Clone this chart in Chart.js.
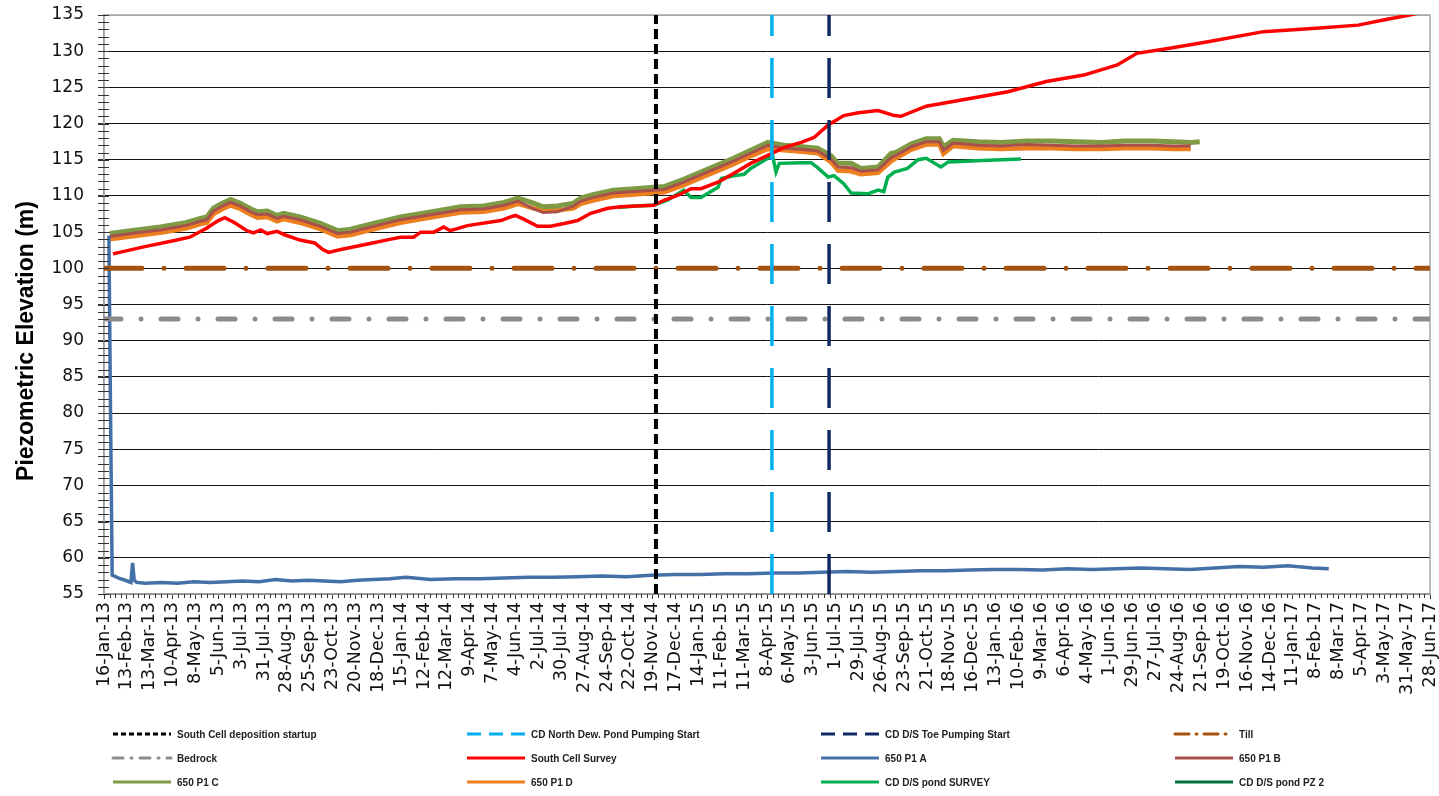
<!DOCTYPE html>
<html>
<head>
<meta charset="utf-8">
<script src="https://cdn.jsdelivr.net/npm/chart.js@4.4.1/dist/chart.umd.min.js"></script>
<style>
  html, body { margin: 0; padding: 0; background: #fff; }
  canvas { display: block; }
</style>
</head>
<body>
<canvas id="chart" width="1439" height="796"></canvas>
<script>
// days counted from 16-Jan-13
const START = Date.UTC(2013, 0, 16);
const MONTHS = ['Jan','Feb','Mar','Apr','May','Jun','Jul','Aug','Sep','Oct','Nov','Dec'];
const X_MAX = 1624;
const Y_TITLE = 'Piezometric Elevation (m)';

// event dates (days) and reference levels (m)
const southCellStartDay = 676;
const northPondPumpDay = 818;
const toePumpDay = 888;
const tillLevel = 100;
const bedrockLevel = 93;

const southSurveyDays = [11,50,85,105,125,140,148,160,175,183,192,200,212,222,240,258,268,275,290,320,350,363,379,388,404,416,424,445,486,498,504,514,531,547,568,580,596,617,633,673,686,703,719,731,752,771,792,813,833,854,870,887,906,924,948,968,976,1007,1052,1107,1154,1200,1241,1265,1305,1352,1420,1489,1536,1567,1599,1624];
const southSurvey = [102.0,103.0,103.8,104.3,105.5,106.6,107.0,106.3,105.2,104.9,105.3,104.8,105.1,104.6,103.9,103.5,102.6,102.2,102.6,103.3,104.0,104.3,104.3,105.0,105.0,105.7,105.2,105.9,106.6,107.1,107.3,106.8,105.8,105.8,106.3,106.6,107.6,108.3,108.5,108.7,109.4,110.1,111.0,111.0,111.9,113.1,114.5,115.6,116.7,117.4,118.1,119.8,121.1,121.5,121.8,121.1,121.0,122.4,123.3,124.4,125.8,126.7,128.1,129.7,130.4,131.3,132.7,133.2,133.6,134.3,135.0,135.6];

const p1aDays = [6,8,10,18,26,33,35,37,40,50,70,90,110,130,150,170,190,210,230,250,270,290,310,330,350,370,400,430,460,490,520,550,580,610,640,670,700,730,760,790,820,850,880,910,940,970,1000,1030,1060,1090,1120,1150,1180,1210,1240,1270,1300,1330,1360,1390,1420,1450,1480,1500];
const p1a = [104.5,80.0,57.6,57.2,56.9,56.6,59.3,56.9,56.6,56.5,56.6,56.5,56.7,56.6,56.7,56.8,56.7,57.0,56.8,56.9,56.8,56.7,56.9,57.0,57.1,57.3,57.0,57.1,57.1,57.2,57.3,57.3,57.4,57.5,57.4,57.6,57.7,57.7,57.8,57.8,57.9,57.9,58.0,58.1,58.0,58.1,58.2,58.2,58.3,58.4,58.4,58.3,58.5,58.4,58.5,58.6,58.5,58.4,58.6,58.8,58.7,58.9,58.6,58.5];

const p1Days = [7,40,69,100,118,126,134,145,155,167,180,188,200,212,220,240,265,286,302,330,363,400,437,465,490,507,526,538,555,575,584,600,624,650,673,686,710,731,750,771,792,813,833,855,874,890,899,915,927,948,964,970,989,1007,1023,1028,1040,1070,1099,1130,1160,1190,1222,1250,1283,1310,1331,1342];
const p1b = [104.4,104.9,105.3,105.9,106.5,106.7,107.9,108.6,109.1,108.6,107.8,107.4,107.5,106.9,107.2,106.7,105.8,104.8,105.0,105.8,106.7,107.4,108.1,108.2,108.7,109.3,108.2,107.7,107.8,108.6,109.3,109.8,110.4,110.6,110.8,110.9,111.9,112.9,113.8,114.8,115.9,117.0,116.6,116.4,116.2,115.1,114.0,113.9,113.4,113.6,115.3,115.6,116.8,117.5,117.5,116.3,117.3,117.0,116.9,117.1,117.0,116.9,116.9,117.0,117.0,116.9,116.9,null];
const p1c = [104.8,105.3,105.7,106.3,106.9,107.1,108.3,109.0,109.5,109.0,108.2,107.8,107.9,107.3,107.6,107.1,106.2,105.2,105.4,106.2,107.1,107.8,108.5,108.6,109.1,109.7,109.0,108.5,108.6,109.0,109.7,110.2,110.8,111.0,111.2,111.3,112.3,113.3,114.2,115.2,116.3,117.4,117.0,116.8,116.6,115.6,114.5,114.5,113.8,114.0,115.9,116.0,117.2,117.9,117.9,116.8,117.7,117.5,117.4,117.6,117.6,117.5,117.4,117.6,117.6,117.5,117.4,117.5];
const p1d = [104.0,104.5,104.9,105.5,106.1,106.3,107.5,108.2,108.7,108.2,107.4,107.0,107.1,106.5,106.8,106.3,105.4,104.4,104.6,105.4,106.3,107.0,107.7,107.8,108.3,108.9,108.3,108.1,108.0,108.3,108.9,109.4,110.0,110.2,110.4,110.5,111.5,112.5,113.4,114.4,115.5,116.5,116.3,116.1,115.9,114.7,113.5,113.4,113.0,113.2,114.8,115.2,116.4,117.1,117.1,115.8,116.9,116.6,116.5,116.6,116.6,116.5,116.5,116.6,116.6,116.5,116.5,null];

const pondSurveyDays = [630,650,673,690,710,719,731,752,756,771,784,792,813,819,823,827,854,866,874,887,894,906,915,936,948,955,960,968,984,997,1007,1025,1034,1076,1123];
const pondSurvey = [108.4,108.6,108.7,109.4,110.8,109.8,109.8,111.2,112.4,112.8,113.0,113.8,115.2,115.5,113.3,114.5,114.6,114.6,113.9,112.6,112.8,111.7,110.4,110.3,110.8,110.6,112.6,113.3,113.8,115.0,115.2,114.0,114.7,114.9,115.1];

const pondPz2Days = [];
const pondPz2 = [];

function pts(days, vals) {
  return days.map((d, i) => ({ x: d, y: vals[i] }));
}
function dayLabel(d) {
  const dt = new Date(START + d * 86400000);
  return dt.getUTCDate() + '-' + MONTHS[dt.getUTCMonth()] + '-' + String(dt.getUTCFullYear()).slice(2);
}

const datasets = [
  { label: 'South Cell deposition startup', data: [{x: southCellStartDay, y: 55}, {x: southCellStartDay, y: 135}],
    borderColor: '#000000', borderWidth: 4, borderDash: [10, 5], legendDash: [5, 3] },
  { label: 'CD North Dew. Pond Pumping Start', data: [{x: northPondPumpDay, y: 55}, {x: northPondPumpDay, y: 135}],
    borderColor: '#00B0F0', borderWidth: 3.5, borderDash: [40, 22], legendDash: [14, 8] },
  { label: 'CD D/S Toe Pumping Start', data: [{x: toePumpDay, y: 55}, {x: toePumpDay, y: 135}],
    borderColor: '#0F2A60', borderWidth: 3.5, borderDash: [40, 22], legendDash: [14, 8] },
  { label: 'Till', data: [{x: 0, y: tillLevel}, {x: X_MAX, y: tillLevel}],
    borderColor: '#A4520F', borderWidth: 5, borderDash: [38, 22, 0, 22], borderCapStyle: 'round', legendDash: [14, 7, 1, 7] },
  { label: 'Bedrock', data: [{x: 0, y: bedrockLevel}, {x: X_MAX, y: bedrockLevel}],
    borderColor: '#8C8C8C', borderWidth: 5, borderDash: [17, 20, 0, 20], borderCapStyle: 'round', legendDash: [10, 8, 1, 8] },
  { label: 'South Cell Survey', data: pts(southSurveyDays, southSurvey), borderColor: '#FF0000', borderWidth: 3.5 },
  { label: '650 P1 A', data: pts(p1aDays, p1a), borderColor: '#4470A8', borderWidth: 3.5 },
  { label: '650 P1 B', data: pts(p1Days, p1b), borderColor: '#A9504B', borderWidth: 3 },
  { label: '650 P1 C', data: pts(p1Days, p1c), borderColor: '#7F9A45', borderWidth: 5 },
  { label: '650 P1 D', data: pts(p1Days, p1d), borderColor: '#EE7F1E', borderWidth: 4.5 },
  { label: 'CD D/S pond SURVEY', data: pts(pondSurveyDays, pondSurvey), borderColor: '#00B050', borderWidth: 3.5 },
  { label: 'CD D/S pond PZ 2', data: pts(pondPz2Days, pondPz2), borderColor: '#00703C', borderWidth: 3.5 }
];

// minor ticks, plot frame, y title and the 4-column legend under the axis
const extras = {
  id: 'extras',
  beforeDatasetsDraw(chart) {
    const { ctx, chartArea: a } = chart;
    ctx.save();
    ctx.strokeStyle = '#A6A6A6';
    ctx.lineWidth = 1.5;
    ctx.strokeRect(a.left, a.top, a.right - a.left, a.bottom - a.top);
    ctx.restore();
  },
  afterDraw(chart) {
    const { ctx, chartArea: a, scales: { x, y } } = chart;
    ctx.save();
    ctx.strokeStyle = '#333';
    ctx.lineWidth = 1;
    ctx.beginPath();
    for (let v = 55; v <= 135; v++) {
      const py = Math.round(y.getPixelForValue(v)) + 0.5;
      ctx.moveTo(a.left - 6, py);
      ctx.lineTo(a.left + 5, py);
    }
    for (let d = 7; d < X_MAX; d += 7) {
      if (d % 28 === 0) continue;
      const px = Math.round(x.getPixelForValue(d)) + 0.5;
      ctx.moveTo(px, a.bottom);
      ctx.lineTo(px, a.bottom + 4);
    }
    ctx.stroke();

    // axis title sits a bit low, as in the original workbook
    ctx.save();
    ctx.translate(27, 341);
    ctx.rotate(-Math.PI / 2);
    ctx.font = 'bold 23px "Liberation Sans", Arial, sans-serif';
    ctx.fillStyle = '#000';
    ctx.textAlign = 'center';
    ctx.textBaseline = 'middle';
    ctx.fillText(Y_TITLE, 0, 0);
    ctx.restore();

    ctx.font = 'bold 11px "Liberation Sans", Arial, sans-serif';
    ctx.textBaseline = 'middle';
    ctx.fillStyle = '#222';
    chart.data.datasets.forEach((ds, i) => {
      const col = i % 4, row = Math.floor(i / 4);
      const x0 = 113 + col * 354;
      const y0 = 734 + row * 24;
      ctx.strokeStyle = ds.borderColor;
      ctx.lineWidth = 3;
      ctx.lineCap = ds.borderCapStyle || 'butt';
      ctx.setLineDash(ds.legendDash || []);
      ctx.beginPath();
      ctx.moveTo(x0, y0);
      ctx.lineTo(x0 + 58, y0);
      ctx.stroke();
      ctx.setLineDash([]);
      const w = ctx.measureText(ds.label).width;
      ctx.fillText(ds.label, x0 + 64, y0 + 1, w * 0.91);
    });
    ctx.restore();
  }
};

new Chart(document.getElementById('chart'), {
  type: 'line',
  data: { datasets: datasets },
  options: {
    responsive: false,
    animation: false,
    events: [],
    layout: { padding: { top: 15, right: 9, bottom: 100, left: 0 } },
    elements: { point: { radius: 0 }, line: { tension: 0, fill: false } },
    plugins: { legend: { display: false }, tooltip: { enabled: false } },
    scales: {
      x: {
        type: 'linear',
        min: 0,
        max: X_MAX,
        afterFit: (scale) => { scale.height = 102; scale.paddingLeft = 0; scale.paddingRight = 0; },
        border: { color: '#808080', width: 1.5 },
        grid: { drawOnChartArea: false, tickLength: 5, color: '#333' },
        ticks: {
          stepSize: 28,
          autoSkip: false,
          maxRotation: 90,
          minRotation: 90,
          padding: 3,
          color: '#111',
          font: { family: '"DejaVu Sans"', size: 17.5 },
          callback: (v) => dayLabel(v)
        }
      },
      y: {
        min: 55,
        max: 135,
        afterFit: (scale) => { scale.width = 104; scale.paddingTop = 0; scale.paddingBottom = 0; },
        border: { color: '#808080', width: 1.5 },
        grid: {
          tickLength: 6,
          color: (c) => c.tick && c.tick.value === 135 ? '#A6A6A6' : '#111',
          tickColor: '#333'
        },
        ticks: {
          stepSize: 5,
          padding: 14,
          color: '#111',
          font: { family: '"DejaVu Sans"', size: 17 }
        }
      }
    }
  },
  plugins: [extras]
});
</script>
</body>
</html>
